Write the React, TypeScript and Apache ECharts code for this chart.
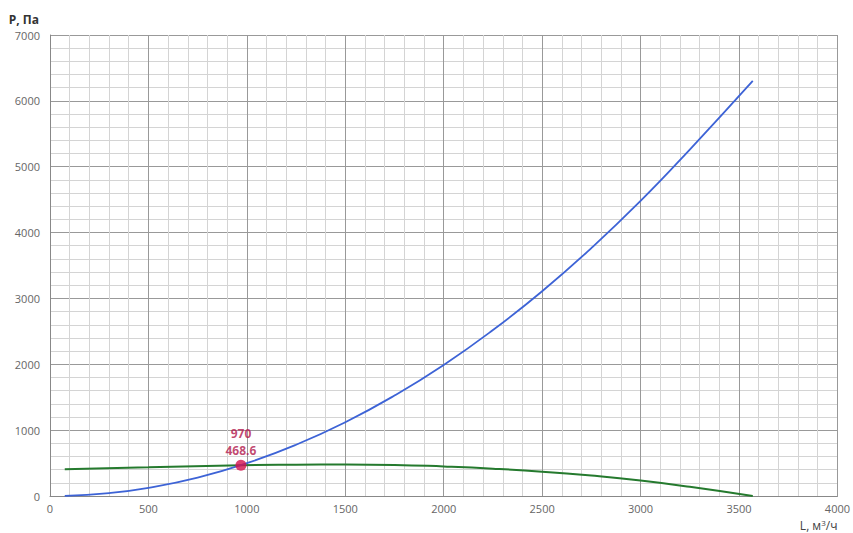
import React, { useEffect, useRef } from "react";
import * as echarts from "echarts";

// Network resistance curve (blue) and fan pressure curve (green)
const networkFlow = [75, 300, 500, 750, 1000, 1250, 1500, 1750, 2000, 2250, 2500, 2750, 3000, 3250, 3570];
const networkPressure = [3, 45, 125, 280, 498, 778, 1120, 1525, 1990, 2520, 3110, 3765, 4480, 5260, 6302];

const fanFlow = [75, 500, 970, 1250, 1500, 1750, 2000, 2250, 2500, 2750, 3000, 3250, 3570];
const fanPressure = [408, 435, 468.6, 476, 478, 472, 448, 415, 370, 310, 235, 140, 0];

// Operating point
const workFlow = 970;
const workPressure = 468.6;

const FONT = "Open Sans";

export default function App() {
  const ref = useRef<HTMLDivElement>(null);
  useEffect(() => {
    if (!ref.current) return;
    const chart = echarts.init(ref.current, undefined, { renderer: "svg" });
    const labelColor = "#666";
    chart.setOption({
      animation: false,
      grid: { left: 50, right: 14, top: 35, bottom: 37 },
      xAxis: {
        type: "value",
        min: 0,
        max: 4000,
        interval: 500,
        name: "{n|L, м}{s|3}{n|/ч}",
        nameLocation: "end",
        nameGap: 0,
        nameTextStyle: {
          align: "right",
          verticalAlign: "top",
          padding: [22, 0, 0, 0],
          rich: {
            n: { fontSize: 12, color: "#444", fontFamily: FONT },
            s: { fontSize: 8, color: "#444", fontFamily: FONT, verticalAlign: "top", padding: [0, 0, 6, 0] },
          },
        },
        axisLine: { show: true, lineStyle: { color: "#888", width: 1 } },
        axisTick: { show: false },
        axisLabel: { color: labelColor, fontSize: 11, fontFamily: FONT, margin: 7, formatter: (v: number) => String(v) },
        splitLine: { show: true, lineStyle: { color: "#999", width: 1 } },
        minorTick: { show: false, splitNumber: 5 },
        minorSplitLine: { show: true, lineStyle: { color: "#d4d4d4", width: 1 } },
      },
      yAxis: {
        type: "value",
        min: 0,
        max: 7000,
        interval: 1000,
        name: "P, Па",
        nameLocation: "end",
        nameGap: 10,
        nameTextStyle: {
          color: "#333",
          fontWeight: "bold",
          fontSize: 12,
          fontFamily: FONT,
          align: "right",
          padding: [0, 11, 0, 0],
        },
        axisLine: { show: true, lineStyle: { color: "#888", width: 1 } },
        axisTick: { show: false },
        axisLabel: { color: labelColor, fontSize: 11, fontFamily: FONT, margin: 10, formatter: (v: number) => String(v) },
        splitLine: { show: true, lineStyle: { color: "#999", width: 1 } },
        minorTick: { show: false, splitNumber: 5 },
        minorSplitLine: { show: true, lineStyle: { color: "#d4d4d4", width: 1 } },
      },
      series: [
        {
          type: "line",
          data: fanFlow.map((x, i) => [x, fanPressure[i]]),
          smooth: true,
          showSymbol: false,
          lineStyle: { color: "#257a2e", width: 2 },
          z: 2,
        },
        {
          type: "line",
          data: networkFlow.map((x, i) => [x, networkPressure[i]]),
          smooth: true,
          showSymbol: false,
          lineStyle: { color: "#3d63d6", width: 1.8 },
          z: 3,
        },
        {
          type: "scatter",
          data: [[workFlow, workPressure]],
          symbolSize: 11,
          itemStyle: { color: "#d3124c" },
          z: 5,
          label: {
            show: true,
            position: "top",
            distance: 1,
            formatter: () => `{a|${workFlow}}\n{a|${workPressure}}`,
            rich: {
              a: {
                color: "#b2174c",
                fontWeight: "bold",
                fontSize: 12,
                lineHeight: 17,
                fontFamily: FONT,
              },
            },
          },
        },
      ],
    });
    return () => chart.dispose();
  }, []);
  return <div ref={ref} style={{ width: 853, height: 533, position: "absolute", left: 0, top: 0 }} />;
}
